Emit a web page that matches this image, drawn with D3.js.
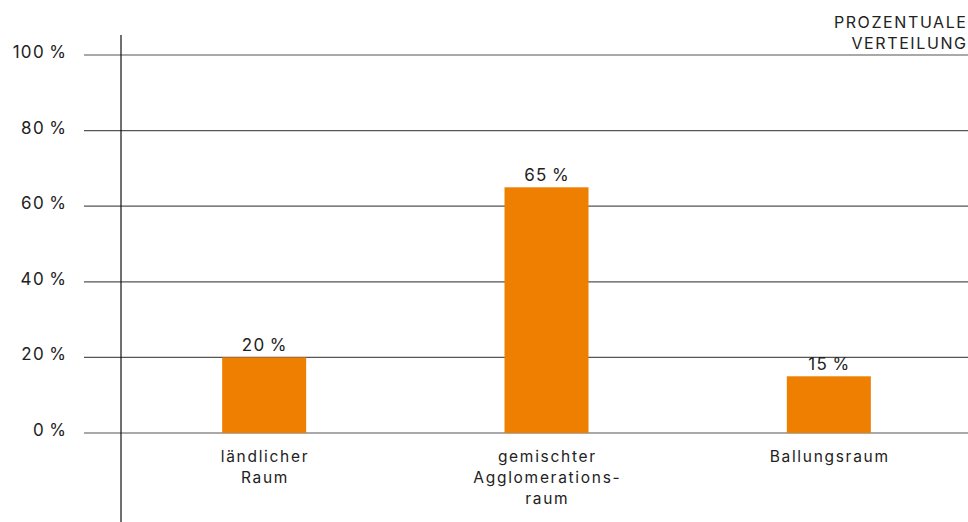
<!DOCTYPE html>
<html lang="de">
<head>
<meta charset="utf-8">
<script src="https://cdn.jsdelivr.net/npm/d3@7"></script>
<style>
  html, body { margin: 0; padding: 0; background: #fff; }
  svg { display: block; font-family: Inter, "DejaVu Sans", sans-serif; }
</style>
</head>
<body>
<svg id="chart" width="968" height="522"></svg>
<script>
// Kategorien (Zeilen der Beschriftung) und Anteile in Prozent
const categories = ["ländlicher Raum", "gemischter Agglomerationsraum", "Ballungsraum"];
const categoryLines = [["ländlicher", "Raum"], ["gemischter", "Agglomerations-", "raum"], ["Ballungsraum"]];
const shares = [20, 65, 15];
const yTicks = [0, 20, 40, 60, 80, 100];
const titleLines = ["PROZENTUALE", "VERTEILUNG"];

const svg = d3.select("#chart");
const W = 968;
const axisX = 121, gridLeft = 84;
const y0 = 433, y100 = 55;

const x = d3.scaleBand().domain(categories).range([axisX + 2, W + 2]).padding(0);
const y = d3.scaleLinear().domain([0, 100]).range([y0, y100]);
const barW = 84;
const fmt = v => v + "\u2009%";

// Gitterlinien mit Beschriftung
const grid = svg.append("g");
grid.selectAll("line").data(yTicks).join("line")
  .attr("x1", gridLeft).attr("x2", W)
  .attr("y1", d => y(d)).attr("y2", d => y(d))
  .attr("stroke", "#555").attr("stroke-width", 1.2);
grid.selectAll("text").data(yTicks).join("text")
  .attr("x", 66 + 1.3).attr("y", d => y(d) + 3)
  .attr("text-anchor", "end")
  .attr("font-size", 17).attr("letter-spacing", 1.3).attr("fill", "#222")
  .text(fmt);

// Balken
svg.append("g").selectAll("rect").data(categories).join("rect")
  .attr("x", (d) => x(d) + x.bandwidth() / 2 - barW / 2)
  .attr("width", barW)
  .attr("y", (d, i) => y(shares[i]))
  .attr("height", (d, i) => y0 - y(shares[i]))
  .attr("fill", "#EE7F00");

// Werte über den Balken
svg.append("g").selectAll("text").data(categories).join("text")
  .attr("x", d => x(d) + x.bandwidth() / 2 + 0.65)
  .attr("y", (d, i) => y(shares[i]) - 6)
  .attr("text-anchor", "middle")
  .attr("font-size", 17).attr("letter-spacing", 1.3).attr("fill", "#222")
  .text((d, i) => fmt(shares[i]));

// Kategoriebeschriftung
const catG = svg.append("g").selectAll("text").data(categories).join("text")
  .attr("text-anchor", "middle")
  .attr("font-size", 15.5).attr("letter-spacing", 1.7).attr("fill", "#222");
catG.each(function(d, i) {
  d3.select(this).selectAll("tspan").data(categoryLines[i]).join("tspan")
    .attr("x", x(d) + x.bandwidth() / 2 + 0.85)
    .attr("y", (t, j) => 462 + j * 21)
    .text(t => t);
});

// Senkrechte Achse
svg.append("line")
  .attr("x1", axisX).attr("x2", axisX)
  .attr("y1", 35).attr("y2", 522)
  .attr("stroke", "#111").attr("stroke-width", 1.2);

// Titel rechts oben
svg.append("text")
  .attr("text-anchor", "end").attr("font-size", 16).attr("letter-spacing", 1.6).attr("fill", "#222")
  .selectAll("tspan").data(titleLines).join("tspan")
  .attr("x", 966 + 1.6).attr("y", (t, j) => 28 + j * 21)
  .text(t => t);
</script>
</body>
</html>
